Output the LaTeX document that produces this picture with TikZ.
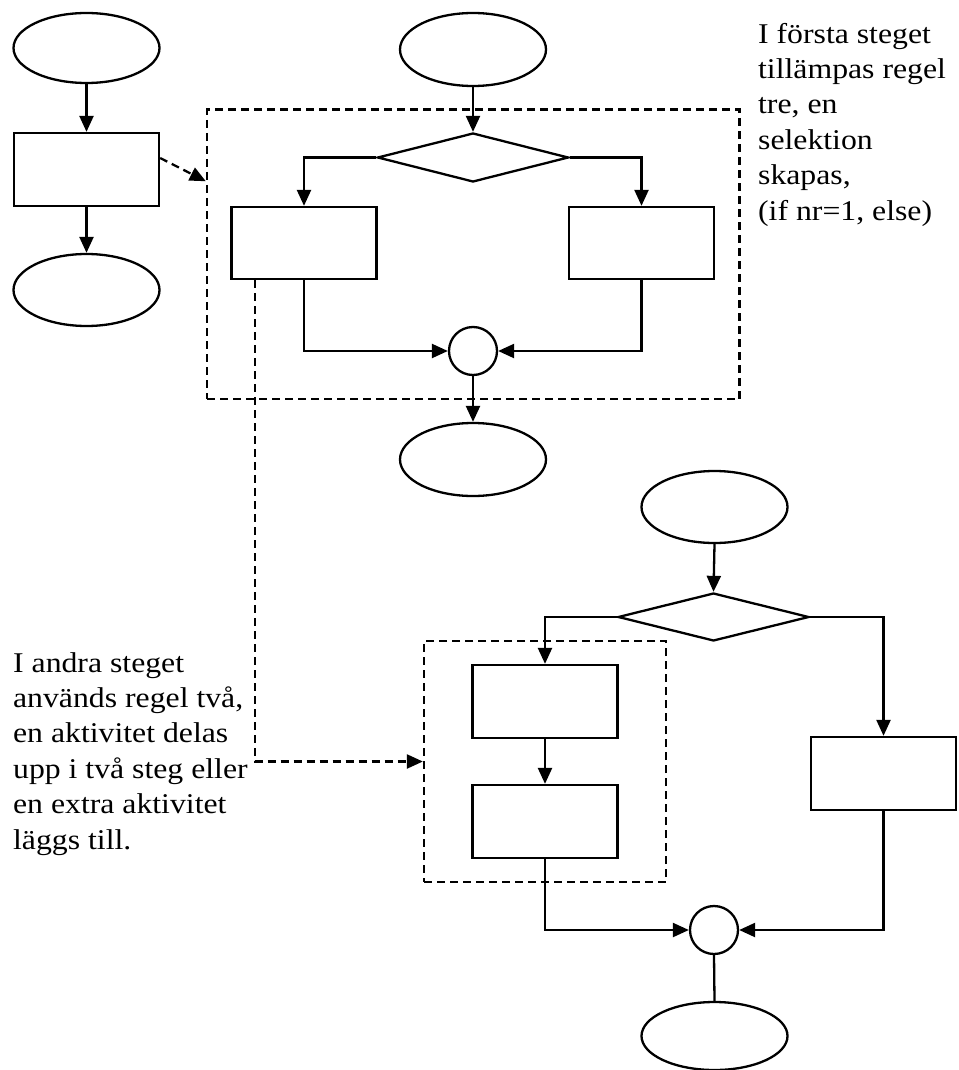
\documentclass[tikz,border=0pt]{standalone}
\usepackage{fontspec}
\usetikzlibrary{shapes.geometric,arrows.meta}
\newfontfamily\notefont[FakeStretch=1.11]{Liberation Serif}
\begin{document}
\begin{tikzpicture}[x=1pt,y=-1pt,
  line width=2.3pt,
  every node/.style={inner sep=0pt},
  tip/.style={-{Triangle[length=16pt,width=14pt]}},
  terminal/.style={draw,ellipse,minimum width=146pt,minimum height=72pt},
  activity/.style={draw,rectangle,minimum width=145pt,minimum height=72pt},
  choice/.style={draw,diamond,minimum width=191pt,minimum height=48pt},
  junction/.style={draw,circle,minimum size=48pt},
  group/.style={draw,dash pattern=on 8pt off 5pt,rectangle},
  linkline/.style={dash pattern=on 8pt off 5pt},
  note/.style={font=\notefont\fontsize{28.6}{35.4}\selectfont,align=left,anchor=base west}
]
\useasboundingbox (0,0) rectangle (958,1070);

% ---- small flow on the left ----
\node[terminal,minimum height=70pt] (ls) at (86.5,48) {};
\node[activity,minimum height=73pt] (la) at (86.5,169.5) {};
\node[terminal] (le) at (86.5,290) {};
\draw[tip] (ls.south) -- (la.north);
\draw[tip] (la.south) -- (le.north);

% ---- step one: selection ----
\node[group,minimum width=532.5pt,minimum height=289.5pt] (g1) at (473.25,254.25) {};
\node[terminal,minimum height=73pt] (ts) at (473,49.5) {};
\node[choice,minimum height=49pt] (d1) at (473,157.5) {};
\node[activity] (a1) at (304,243) {};
\node[activity] (a2) at (641.5,243) {};
\node[junction] (j1) at (473,351) {};
\node[terminal,minimum height=73pt] (te) at (473,459.5) {};
\draw[tip] (ts.south) -- (d1.north);
\draw[tip] (d1.west) -| (a1.north);
\draw[tip] (d1.east) -| (a2.north);
\draw[tip] (a1.south) |- (j1.west);
\draw[tip] (a2.south) |- (j1.east);
\draw[tip] (j1.south) -- (te.north);
\draw[linkline,tip] ([yshift=11.5pt]la.east) -- ([yshift=73pt]g1.west);

% ---- step two: sequence inside the selection ----
\node[group,minimum width=242pt,minimum height=241pt] (g2) at (545,761.5) {};
\node[terminal] (bs) at (714.5,507) {};
\node[choice] (d2) at (713.5,617) {};
\node[activity,minimum height=73pt] (b1) at (545,701.5) {};
\node[activity,minimum height=73pt] (b2) at (545,821.5) {};
\node[activity,minimum height=73pt] (b3) at (883.5,773.5) {};
\node[junction] (j2) at (714,930) {};
\node[terminal,minimum height=68pt] (be) at (714.5,1036) {};
\draw[tip] (bs.south) -- (d2.north);
\draw[tip] (d2.west) -| (b1.north);
\draw[tip] (d2.east) -| (b3.north);
\draw[tip] (b1.south) -- (b2.north);
\draw[tip] (b2.south) |- (j2.west);
\draw[tip] (b3.south) |- (j2.east);
\draw (j2.south) -- (be.north);
\draw[linkline,tip] ([xshift=-49pt]a1.south) |- (g2.west);

% ---- notes ----
\node[note] (n1) at (757,220) {I första steget\\tillämpas regel\\tre, en\\selektion\\skapas,\\(if nr=1, else)};
\node[note] (n2) at (12,849) {I andra steget\\används regel två,\\en aktivitet delas\\upp i två steg eller\\en extra aktivitet\\läggs till.};
\end{tikzpicture}
\end{document}
